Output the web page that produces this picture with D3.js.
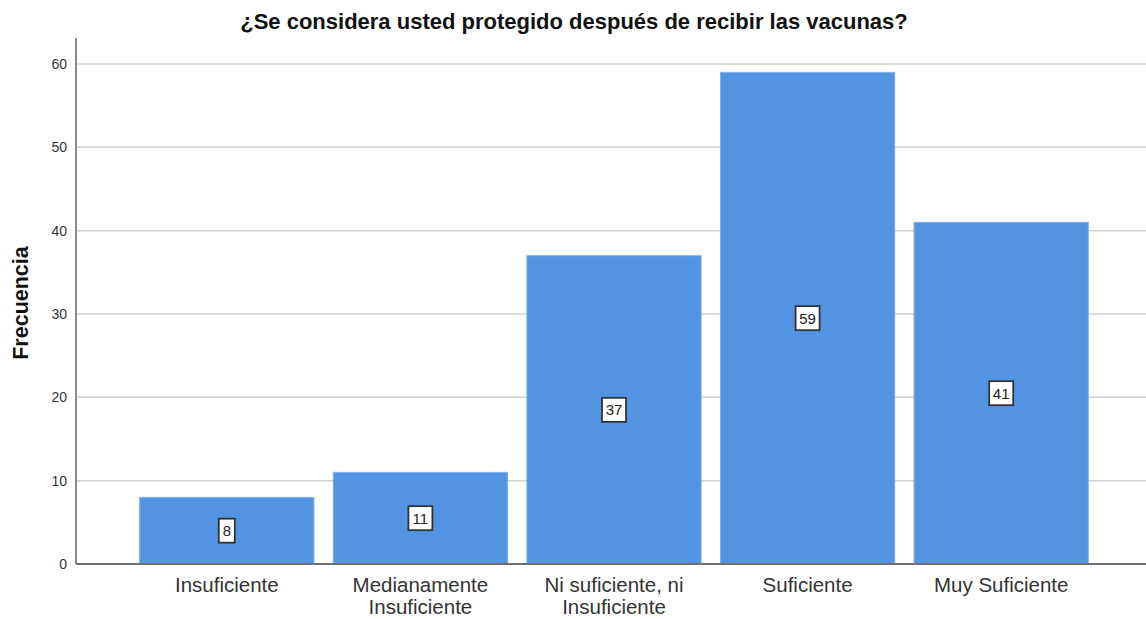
<!DOCTYPE html>
<html>
<head>
<meta charset="utf-8">
<script src="https://cdnjs.cloudflare.com/ajax/libs/d3/7.8.5/d3.min.js"></script>
<style>
	body { margin: 0; background: #fff; }
	text { font-family: "Liberation Sans", Arial, sans-serif; }
</style>
</head>
<body>
<script>

// data
var categories = [["Insuficiente"], ["Medianamente", "Insuficiente"], ["Ni suficiente, ni", "Insuficiente"], ["Suficiente"], ["Muy Suficiente"]];
var frecuencias = [8, 11, 37, 59, 41];
var yTicks = [0, 10, 20, 30, 40, 50, 60];

var w = 1146, h = 619;
var plotLeft = 76, plotRight = 1146, plotTop = 38, plotBottom = 564;

var svg = d3.select("body")
	.append("svg")
	.attr("width", w)
	.attr("height", h);

var xScale = d3.scaleBand()
	.domain(d3.range(categories.length))
	.range([130, 1098])
	.paddingInner(0.1)
	.paddingOuter(0.05);

var yScale = d3.scaleLinear()
	.domain([0, 60])
	.range([plotBottom, 64]);

// grid lines
svg.selectAll(".grid")
	.data(yTicks.slice(1))
	.enter().append("line")
	.attr("class", "grid")
	.attr("x1", plotLeft)
	.attr("x2", plotRight)
	.attr("y1", function(d) { return yScale(d); })
	.attr("y2", function(d) { return yScale(d); })
	.attr("stroke", "#d2d2d2")
	.attr("stroke-width", 1.5);

// bars
svg.selectAll(".bar")
	.data(frecuencias)
	.enter().append("rect")
	.attr("class", "bar")
	.attr("x", function(d, i) { return xScale(i); })
	.attr("y", function(d) { return yScale(d); })
	.attr("width", xScale.bandwidth())
	.attr("height", function(d) { return plotBottom - yScale(d); })
	.attr("fill", "#5294e2")
	.attr("stroke", "#7fb0ec")
	.attr("stroke-width", 1);

// y axis
var yAxis = svg.append("g")
	.attr("transform", "translate(" + plotLeft + ",0)")
	.call(d3.axisLeft(yScale).tickValues(yTicks).tickSize(0).tickPadding(9));
yAxis.select(".domain").remove();
yAxis.selectAll("text")
	.attr("font-size", 14)
	.attr("fill", "#333")
	.style("font-family", "Liberation Sans, Arial, sans-serif");

svg.append("line")
	.attr("x1", plotLeft).attr("x2", plotLeft)
	.attr("y1", plotTop).attr("y2", plotBottom)
	.attr("stroke", "#8a8a8a")
	.attr("stroke-width", 2);

// x axis
svg.append("line")
	.attr("x1", plotLeft).attr("x2", plotRight)
	.attr("y1", plotBottom).attr("y2", plotBottom)
	.attr("stroke", "#707070")
	.attr("stroke-width", 2);

// category labels
var xLabels = svg.selectAll(".xlabel")
	.data(categories)
	.enter().append("text")
	.attr("class", "xlabel")
	.attr("x", function(d, i) { return xScale(i) + xScale.bandwidth() / 2; })
	.attr("y", 592)
	.attr("text-anchor", "middle")
	.attr("font-size", 20.5)
	.attr("fill", "#333");

xLabels.selectAll("tspan")
	.data(function(d) { return d; })
	.enter().append("tspan")
	.attr("x", function() { return d3.select(this.parentNode).attr("x"); })
	.attr("dy", function(d, i) { return i == 0 ? 0 : 22; })
	.text(function(d) { return d; });

// value labels
var labels = svg.selectAll(".vlabel")
	.data(frecuencias)
	.enter().append("g")
	.attr("class", "vlabel")
	.attr("transform", function(d, i) {
		return "translate(" + (xScale(i) + xScale.bandwidth() / 2) + "," + yScale(d / 2) + ")";
	});

labels.append("rect")
	.attr("x", function(d) { return String(d).length > 1 ? -12 : -8; })
	.attr("y", -12)
	.attr("width", function(d) { return String(d).length > 1 ? 24 : 16; })
	.attr("height", 24)
	.attr("fill", "#fff")
	.attr("stroke", "#333")
	.attr("stroke-width", 1.8);

labels.append("text")
	.attr("text-anchor", "middle")
	.attr("dy", "0.36em")
	.attr("font-size", 15)
	.attr("fill", "#222")
	.text(function(d) { return d; });

// title
svg.append("text")
	.attr("x", 574)
	.attr("y", 29)
	.attr("text-anchor", "middle")
	.attr("font-size", 22)
	.attr("font-weight", "bold")
	.attr("fill", "#111")
	.text("¿Se considera usted protegido después de recibir las vacunas?");

// y axis label
svg.append("text")
	.attr("transform", "translate(28,303) rotate(-90)")
	.attr("text-anchor", "middle")
	.attr("font-size", 21.5)
	.attr("font-weight", "bold")
	.attr("fill", "#111")
	.text("Frecuencia");

</script>
</body>
</html>
